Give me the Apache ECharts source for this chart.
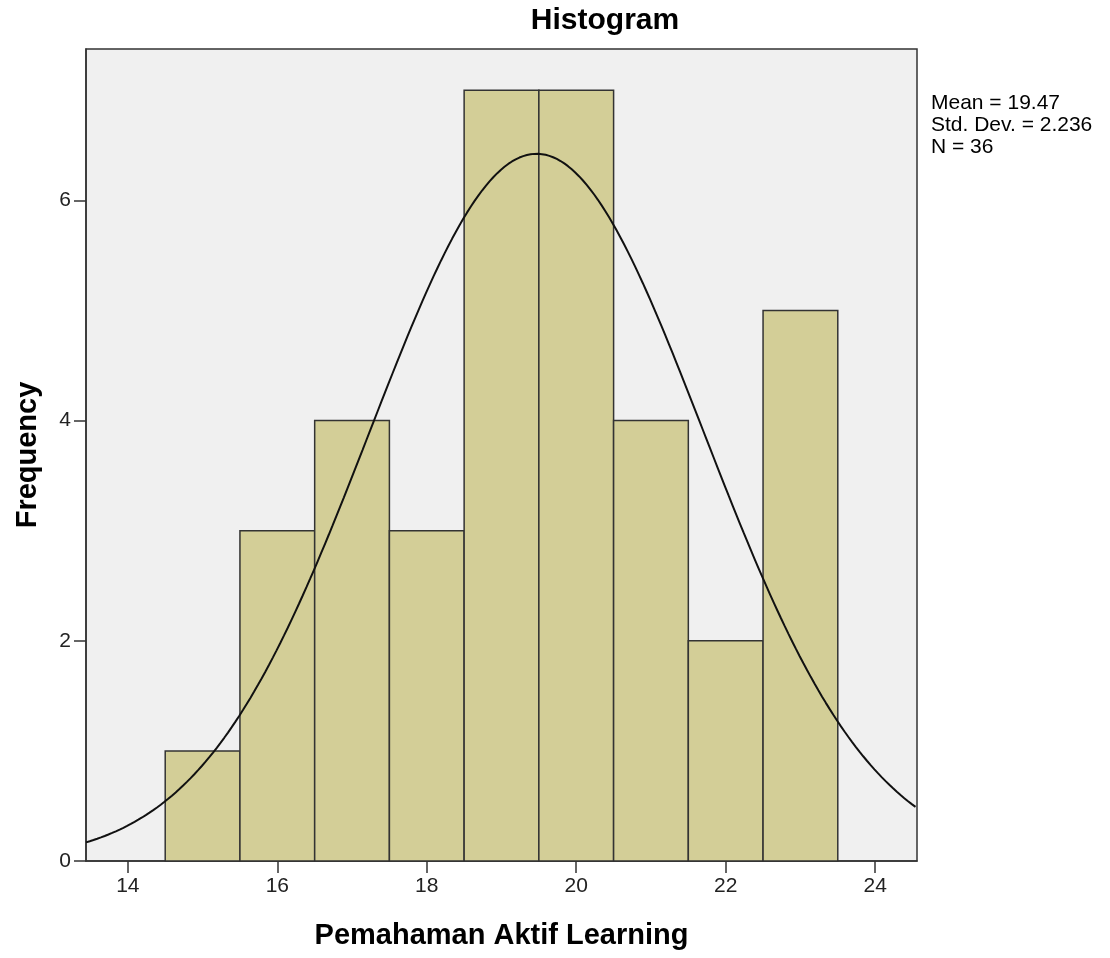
<!DOCTYPE html>
<html>
<head>
<meta charset="utf-8">
<script src="https://cdn.jsdelivr.net/npm/echarts@6/dist/echarts.min.js"></script>
<style>
  html, body { margin: 0; padding: 0; background: #fff; }
  #chart { width: 1110px; height: 958px; }
</style>
</head>
<body>
<div id="chart"></div>
<script>
// bin centres (width 1) and counts
const binCenters = [15, 16, 17, 18, 19, 20, 21, 22, 23];
const counts = [1, 3, 4, 3, 7, 7, 4, 2, 5];
const xTicks = [14, 16, 18, 20, 22, 24];
const yTicks = [0, 2, 4, 6];

// summary stats shown on the chart
const mean = 19.47;
const stdDev = 2.236;
const n = 36;
const binWidth = 1;

const xMin = 13.44, xMax = 24.56;

// fitted normal curve from the stats above
const curve = [];
for (let x = xMin; x <= xMax + 1e-9; x += 0.05) {
    const z = (x - mean) / stdDev;
    curve.push([x, n * binWidth / (stdDev * Math.sqrt(2 * Math.PI)) * Math.exp(-0.5 * z * z)]);
}

const chart = echarts.init(document.getElementById('chart'));
const font = '"Liberation Sans", Arial, sans-serif';

const option = {
    animation: false,
    textStyle: { fontFamily: font },
    grid: {
        left: 86, top: 49, right: 193, bottom: 97,
        show: true,
        backgroundColor: '#f0f0f0',
        borderColor: '#333',
        borderWidth: 1.5
    },
    graphic: [
        {
            type: 'text', x: 605, y: 6,
            style: { text: 'Histogram', font: 'bold 30px ' + font, fill: '#000', align: 'center' }
        },
        {
            type: 'text', left: 931, top: 92,
            style: {
                text: 'Mean = 19.47\nStd. Dev. = 2.236\nN = 36',
                font: '21px ' + font, lineHeight: 22, fill: '#000'
            }
        }
    ],
    xAxis: {
        type: 'value',
        min: xMin, max: xMax,
        name: 'Pemahaman Aktif Learning',
        nameLocation: 'middle',
        nameGap: 60,
        nameTextStyle: { fontSize: 29, fontWeight: 'bold', color: '#000', fontFamily: font },
        splitLine: { show: false },
        axisLine: { show: true, onZero: false, lineStyle: { color: '#333', width: 1.5 } },
        axisTick: { show: true, length: 12, customValues: xTicks, lineStyle: { color: '#333', width: 1.5 } },
        axisLabel: { customValues: xTicks, fontSize: 21, color: '#222', margin: 15 }
    },
    yAxis: {
        type: 'value',
        min: 0, max: 7.375,
        name: 'Frequency',
        nameLocation: 'middle',
        nameGap: 44,
        nameRotate: 90,
        nameTextStyle: { fontSize: 29, fontWeight: 'bold', color: '#000', fontFamily: font },
        splitLine: { show: false },
        axisLine: { show: true, lineStyle: { color: '#333', width: 1.5 } },
        axisTick: { show: true, length: 12, customValues: yTicks, lineStyle: { color: '#333', width: 1.5 } },
        axisLabel: { customValues: yTicks, fontSize: 21, color: '#222', margin: 15 }
    },
    series: [
        {
            type: 'custom',
            data: binCenters.map((c, i) => [c, counts[i]]),
            renderItem: function (params, api) {
                const c = api.value(0);
                const p0 = api.coord([c - binWidth / 2, api.value(1)]);
                const p1 = api.coord([c + binWidth / 2, 0]);
                return {
                    type: 'rect',
                    shape: { x: p0[0], y: p0[1], width: p1[0] - p0[0], height: p1[1] - p0[1] },
                    style: { fill: '#d3ce97', stroke: '#333', lineWidth: 1.5 }
                };
            },
            z: 2
        },
        {
            type: 'line',
            data: curve,
            showSymbol: false,
            lineStyle: { color: '#111', width: 2 },
            z: 3
        }
    ]
};
chart.setOption(option);
</script>
</body>
</html>
